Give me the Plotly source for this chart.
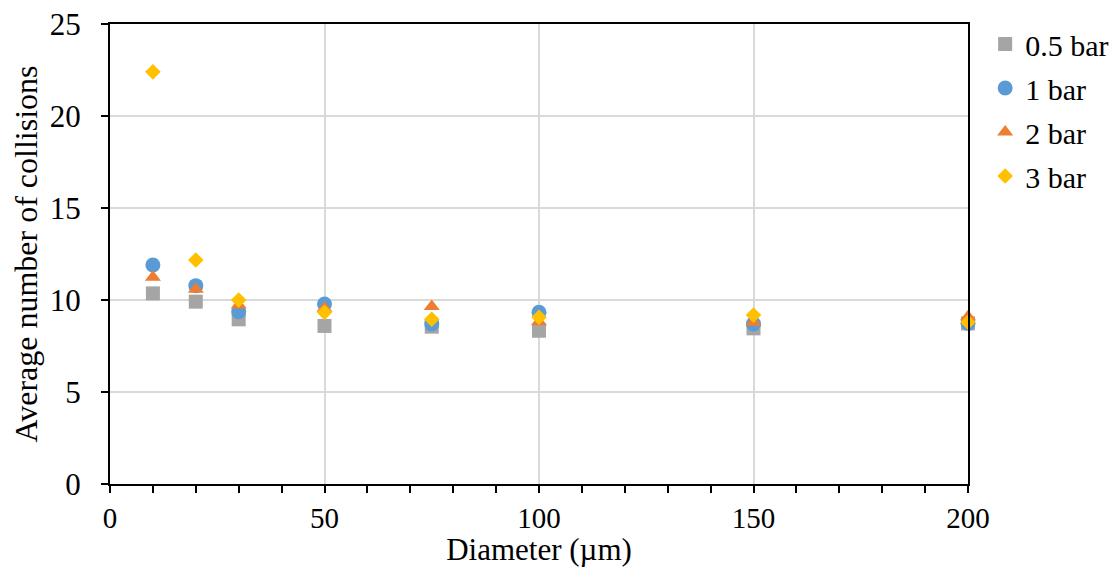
import plotly.graph_objects as go

diameters = [10, 20, 30, 50, 75, 100, 150, 200]
series_names = ["0.5 bar", "1 bar", "2 bar", "3 bar"]
vals_05 = [10.36, 9.91, 8.95, 8.59, 8.55, 8.33, 8.46, 8.73]
vals_1 = [11.9, 10.78, 9.36, 9.78, 8.7, 9.33, 8.7, 8.73]
vals_2 = [11.23, 10.58, 9.73, 9.55, 9.64, 8.82, 8.79, 9.09]
vals_3 = [22.4, 12.17, 10.0, 9.33, 8.95, 9.06, 9.18, 8.79]

colors = ["#A5A5A5", "#5B9BD5", "#ED7D31", "#FFC000"]
symbols = ["square", "circle", "triangle-up", "diamond"]
sizes = [14, 15, 14, 12]

fig = go.Figure()
for i, (name, vals) in enumerate(zip(series_names, [vals_05, vals_1, vals_2, vals_3])):
    fig.add_trace(go.Scatter(
        x=diameters, y=vals, mode="markers", name=name,
        legendgroup=name,
        marker=dict(symbol=symbols[i], color=colors[i], size=sizes[i], line=dict(width=0)),
        cliponaxis=False,
    ))

font_family = "Liberation Serif"
fig.update_layout(
    width=1110, height=559,
    margin=dict(l=102, r=150, t=16, b=83, autoexpand=False),
    paper_bgcolor="white", plot_bgcolor="white",
    font=dict(family=font_family, size=31, color="black"),
    legend=dict(x=1.02, y=1.013, xanchor="left", yanchor="top",
                font=dict(size=30, family=font_family),
                tracegroupgap=2, traceorder="grouped",
                itemwidth=30),
    showlegend=True,
)
fig.update_xaxes(
    range=[0, 200], tickvals=[0, 50, 100, 150, 200],
    showgrid=True, gridcolor="#D9D9D9", gridwidth=2,
    showline=True, linecolor="black", linewidth=2, mirror=True,
    ticks="outside", ticklen=7, tickwidth=2, tickcolor="black",
    minor=dict(dtick=10, ticks="outside", ticklen=7, tickwidth=2, tickcolor="black", showgrid=False),
    zeroline=False,
    ticklabelstandoff=0,
    ticklabeloverflow="allow",
    title=dict(text="Diameter (µm)", standoff=4, font=dict(size=31, family=font_family)),
    tickfont=dict(size=29, family=font_family),
)
fig.update_yaxes(
    range=[0, 25], dtick=5,
    showgrid=True, gridcolor="#D9D9D9", gridwidth=2,
    showline=True, linecolor="black", linewidth=2, mirror=True,
    ticks="outside", ticklen=7, tickwidth=2, tickcolor="black",
    zeroline=False,
    ticklabelstandoff=14,
    ticklabeloverflow="allow",
    title=dict(text="Average number of collisions", standoff=6, font=dict(size=32, family=font_family)),
    tickfont=dict(size=31, family=font_family),
)

fig.write_html("out.html")
